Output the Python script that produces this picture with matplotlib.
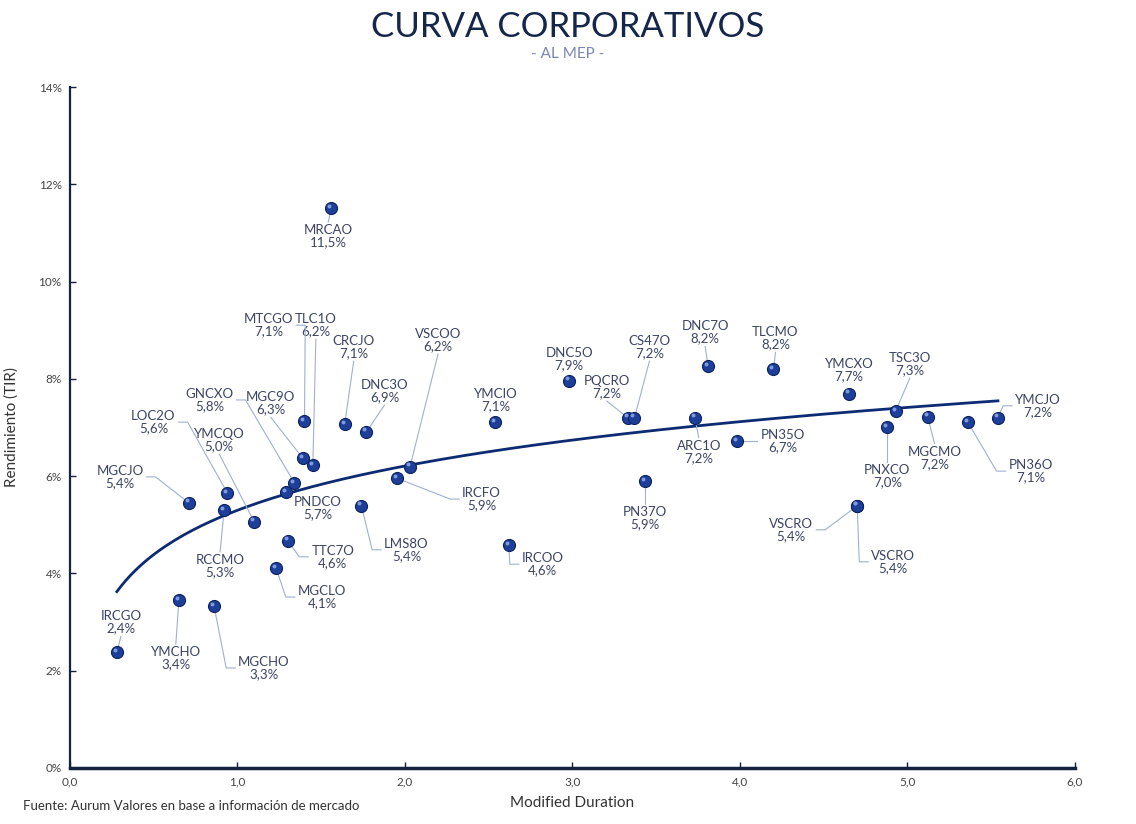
import numpy as np
import matplotlib
matplotlib.use("Agg")
from matplotlib import pyplot as plt
from matplotlib.lines import Line2D
from matplotlib.transforms import IdentityTransform
from matplotlib.ticker import FuncFormatter, MultipleLocator

# Bond tickers, modified duration and yield (TIR, %)
names = ['IRCGO', 'YMCHO', 'MGCHO', 'MGCJO', 'LOC2O', 'RCCMO', 'YMCQO', 'GNCXO',
         'PNDCO', 'MGC9O', 'TLC1O', 'MTCGO', 'CRCJO', 'DNC3O', 'VSCOO', 'IRCFO',
         'LMS8O', 'TTC7O', 'MGCLO', 'MRCAO', 'YMCIO', 'IRCOO', 'DNC5O', 'PQCRO',
         'CS47O', 'PN37O', 'DNC7O', 'ARC1O', 'PN35O', 'TLCMO', 'YMCXO', 'TSC3O',
         'PNXCO', 'MGCMO', 'PN36O', 'YMCJO', 'VSCRO', 'VSCRO']
duration = [0.28, 0.65, 0.86, 0.71, 0.94, 0.92, 1.10, 1.34,
            1.29, 1.39, 1.45, 1.40, 1.64, 1.77, 2.03, 1.95,
            1.74, 1.30, 1.23, 1.56, 2.54, 2.62, 2.98, 3.33,
            3.37, 3.43, 3.81, 3.73, 3.98, 4.20, 4.65, 4.93,
            4.88, 5.12, 5.36, 5.54, 4.70, 4.70]
tir = [2.38, 3.45, 3.33, 5.45, 5.65, 5.30, 5.06, 5.86,
       5.67, 6.37, 6.23, 7.13, 7.07, 6.91, 6.19, 5.96,
       5.39, 4.67, 4.11, 11.51, 7.11, 4.58, 7.96, 7.20,
       7.20, 5.90, 8.26, 7.20, 6.72, 8.20, 7.69, 7.34,
       7.01, 7.22, 7.11, 7.20, 5.39, 5.39]
labels = ['2,4%', '3,4%', '3,3%', '5,4%', '5,6%', '5,3%', '5,0%', '5,8%',
          '5,7%', '6,3%', '6,2%', '7,1%', '7,1%', '6,9%', '6,2%', '5,9%',
          '5,4%', '4,6%', '4,1%', '11,5%', '7,1%', '4,6%', '7,9%', '7,2%',
          '7,2%', '5,9%', '8,2%', '7,2%', '6,7%', '8,2%', '7,7%', '7,3%',
          '7,0%', '7,2%', '7,1%', '7,2%', '5,4%', '5,4%']

# label offsets in pixels (dx right, dy down) from each point
offsets = [(4, -30), (-3, 58), (50, 62), (-69, -26), (-74, -71), (-4, 56), (-35, -82), (-85, -83),
           (32, 16), (-32, -55), (3, -140), (-36, -96), (9, -77), (18, -41), (28, -127), (85, 21),
           (45, 44), (45, 16), (46, 29), (-3, 28), (0, -22), (34, 19), (0, -22), (-21, -31),
           (15, -71), (0, 37), (-3, -34), (4, 34), (46, 0), (2, -31), (0, -24), (14, -47),
           (0, 49), (7, 41), (63, 49), (40, -12), (-66, 24), (36, 56)]
# leader style: 'v' from top/bottom, 's' from side with a short elbow, 'n' none
leaders = ['v', 'v', 's', 's', 's', 'v', 'v', 's',
           'n', 'v', 'v', 's', 'v', 'v', 'v', 's',
           's', 's', 's', 'v', 'n', 's', 'n', 'v',
           'v', 'v', 'v', 'v', 's', 'v', 'n', 'v',
           'v', 'v', 's', 's', 's', 's']

text_col = '#3b4463'
line_col = '#9fb0d0'

fig = plt.figure(figsize=(11.36, 8.24), dpi=100)
ax = fig.add_axes([0.0616, 0.068, 0.8847, 0.8264])

# logarithmic trend line
x = np.array(duration)
y = np.array(tir)
b, a = np.polyfit(np.log(x), y, 1)
xs = np.linspace(x.min(), x.max(), 200)
ax.plot(xs, a + b * np.log(xs), color='#0d2b73', lw=2, zorder=2)

ax.scatter(x, y, s=75, color='#1d3f99', edgecolor='#0c2260', linewidth=0.8, zorder=4)
ax.scatter(x - 0.012, y + 0.05, s=8, color='#7f9be0', linewidth=0, zorder=5)

texts = []
for n, xv, yv, lab, (dx, dy) in zip(names, duration, tir, labels, offsets):
    t = ax.annotate(f'{n}\n{lab}', xy=(xv, yv), xytext=(dx, -dy), textcoords='offset pixels',
                    ha='center', va='center', fontsize=9.5, color=text_col, family='Lato',
                    linespacing=1.05, zorder=3)
    texts.append(t)

ax.set_xlim(0, 6)
ax.set_ylim(0, 14)
ax.xaxis.set_major_locator(MultipleLocator(1))
ax.yaxis.set_major_locator(MultipleLocator(2))
ax.xaxis.set_major_formatter(FuncFormatter(lambda v, p: f'{v:.1f}'.replace('.', ',')))
ax.yaxis.set_major_formatter(FuncFormatter(lambda v, p: f'{v:.0f}%'))
ax.tick_params(direction='in', length=4, width=1, colors='#14233f', labelcolor='#444',
               labelsize=8.5, pad=6)
for t in ax.get_xticklabels() + ax.get_yticklabels():
    t.set_family('Lato')
ax.spines['top'].set_visible(False)
ax.spines['right'].set_visible(False)
ax.spines['bottom'].set_linewidth(2.5)
ax.spines['bottom'].set_color('#14233f')
ax.spines['left'].set_linewidth(1.6)
ax.spines['left'].set_color('#14233f')

ax.set_xlabel('Modified Duration', fontsize=11, color='#333', family='Lato', labelpad=6)
ax.set_ylabel('Rendimiento (TIR)', fontsize=11, color='#333', family='Lato', labelpad=14)

fig.text(0.5, 0.967, 'CURVA CORPORATIVOS', ha='center', va='center', fontsize=25,
         color='#14264a', family='Lato')
fig.text(0.5, 0.935, '- AL MEP -', ha='center', va='center', fontsize=11,
         color='#7b86b5', family='Lato')
fig.text(0.02, 0.022, 'Fuente: Aurum Valores en base a información de mercado',
         ha='left', va='center', fontsize=9.5, color='#333', family='Lato')

# leader lines, drawn in pixel space from the label box to the point
fig.canvas.draw()
renderer = fig.canvas.get_renderer()
for t, xv, yv, mode in zip(texts, duration, tir, leaders):
    if mode == 'n':
        continue
    bb = t.get_window_extent(renderer)
    px, py = ax.transData.transform((xv, yv))
    cx, cy = (bb.x0 + bb.x1) / 2, (bb.y0 + bb.y1) / 2
    if mode == 'v':
        sy = bb.y0 - 2 if py < cy else bb.y1 + 2
        lx, ly = [cx, px], [sy, py]
    else:
        if px > cx:
            sx, ex = bb.x1 + 3, bb.x1 + 12
        else:
            sx, ex = bb.x0 - 3, bb.x0 - 12
        lx, ly = [sx, ex, px], [cy, cy, py]
    ax.add_line(Line2D(lx, ly, transform=IdentityTransform(), color=line_col, lw=0.8,
                       zorder=3, clip_on=False))

plt.savefig('out.png', dpi=100)
